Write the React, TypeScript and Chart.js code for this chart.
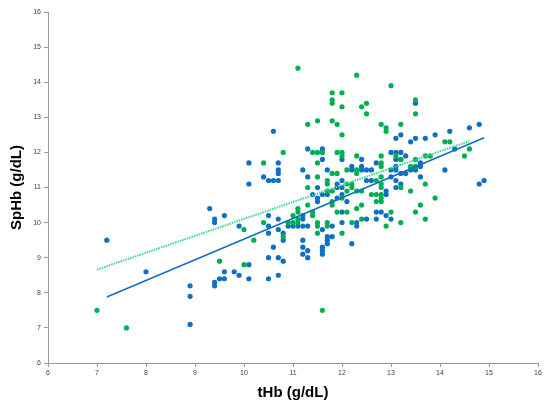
import React, { useEffect, useRef } from "react";
import { Chart, registerables } from "chart.js";

Chart.register(...registerables);

// Blue series: [tHb, SpHb]
const bluePoints: [number, number][] = [
  [7.2, 9.5], [8.0, 8.6], [8.9, 8.2], [8.9, 7.9], [8.9, 7.1], [9.4, 8.3], [9.4, 8.2], [9.5, 8.4],
  [9.6, 8.6], [9.6, 8.4], [9.8, 8.6], [9.9, 8.5], [10.1, 8.8], [10.1, 8.4], [10.5, 9.0], [10.5, 8.4],
  [10.7, 9.0], [10.7, 8.5], [10.8, 8.9], [11.3, 9.2], [11.3, 9.0], [11.6, 9.2], [11.6, 9.1],
  [10.1, 11.7], [10.7, 11.7], [10.7, 11.5], [10.7, 11.4], [10.4, 11.3], [10.5, 11.2], [10.6, 11.2],
  [10.7, 11.2], [10.1, 11.1], [11.3, 11.3], [9.3, 10.4], [9.4, 10.1], [9.4, 10.0], [9.6, 10.2],
  [9.9, 9.9], [10.5, 10.2], [10.5, 9.9], [10.5, 9.7], [10.7, 10.1], [10.7, 9.8], [10.6, 9.3],
  [10.8, 9.7], [10.8, 9.5], [10.9, 9.9], [11.0, 9.9], [11.1, 9.9], [11.2, 10.2], [11.2, 9.9],
  [11.3, 9.9], [11.2, 9.5], [11.2, 9.3], [11.2, 9.1], [10.6, 12.6],
  [13.5, 13.4], [13.2, 12.5], [13.1, 12.4], [13.4, 12.3], [13.5, 12.4], [13.7, 12.4], [13.9, 12.5],
  [14.2, 12.6], [14.6, 12.7], [14.8, 12.8], [14.3, 12.1], [11.3, 12.1], [11.6, 12.1], [13.0, 12.0],
  [13.1, 12.0], [13.2, 12.0], [13.3, 11.9], [11.6, 11.8], [12.0, 11.8], [12.4, 11.8],
  [12.7, 11.7], [13.1, 11.8], [13.2, 11.8], [13.6, 11.7], [13.6, 11.6], [13.1, 11.6], [11.2, 11.5],
  [11.7, 11.5], [12.2, 11.6], [12.2, 11.5], [12.4, 11.6], [12.4, 11.5], [12.5, 11.5], [12.6, 11.5],
  [13.0, 11.5], [13.1, 11.5], [13.2, 11.4], [13.3, 11.4], [13.4, 11.5], [13.5, 11.5], [13.6, 11.3],
  [14.1, 11.5], [14.8, 11.1], [14.9, 11.2], [12.0, 11.2], [11.9, 11.1], [12.5, 11.2], [12.6, 11.2],
  [13.0, 11.3], [13.1, 11.2], [13.1, 11.0], [13.2, 11.1], [11.5, 11.0], [11.9, 11.0], [12.0, 11.0],
  [12.0, 10.8], [11.7, 10.8], [11.4, 10.8], [11.6, 10.8], [12.9, 10.9], [12.9, 10.8], [11.5, 10.7],
  [11.5, 10.6], [11.9, 10.7], [12.1, 10.6], [12.0, 10.3], [12.7, 10.3], [12.8, 10.3], [12.9, 10.2],
  [11.2, 10.1], [11.6, 9.8], [11.8, 9.9], [11.7, 9.6], [11.8, 9.6], [11.7, 9.5], [11.7, 9.4],
  [12.0, 10.0], [12.3, 10.0], [12.3, 9.9], [12.5, 10.1], [12.7, 10.1], [13.0, 10.1], [12.2, 9.4],
  [11.6, 9.3],
];

// Green series: [tHb, SpHb]
const greenPoints: [number, number][] = [
  [7.0, 7.5], [7.6, 7.0], [9.5, 8.9], [10.0, 8.8], [11.6, 7.5], [11.1, 14.4], [10.8, 12.0],
  [12.3, 14.2], [13.0, 13.9], [11.8, 13.7], [12.0, 13.7], [11.8, 13.5], [11.8, 13.4], [12.0, 13.3],
  [12.4, 13.3], [12.5, 13.4], [12.5, 13.1], [13.5, 13.5], [13.5, 13.1], [11.3, 12.8], [11.5, 12.9],
  [11.8, 12.9], [11.9, 12.8], [12.0, 12.5], [12.8, 12.8], [12.9, 12.7], [12.9, 12.6], [13.2, 12.8],
  [14.1, 12.3], [14.2, 12.3], [14.6, 12.1], [14.5, 11.9], [11.4, 12.0], [11.5, 12.0], [11.6, 12.0],
  [11.9, 12.0], [12.0, 12.0], [12.0, 11.9], [13.1, 11.9], [12.8, 11.9], [12.3, 11.9], [13.2, 11.8],
  [13.5, 11.8], [13.7, 11.9], [13.8, 11.9],
  [10.4, 11.7], [11.3, 11.0], [11.3, 10.5], [10.0, 9.8], [10.2, 9.5], [10.4, 10.0], [10.8, 9.6],
  [10.9, 10.0], [11.0, 10.2], [11.0, 10.0], [11.1, 10.4], [11.1, 10.3], [11.1, 10.1], [11.1, 10.0],
  [11.5, 11.7], [12.8, 11.7], [12.8, 11.6], [13.4, 11.6], [13.5, 11.6], [12.1, 11.5], [12.3, 11.5],
  [11.8, 11.4], [11.9, 11.4], [12.3, 11.4], [12.8, 11.3], [11.5, 11.3], [11.7, 11.2], [11.7, 11.1],
  [12.1, 11.1], [12.2, 11.1], [12.7, 11.2], [12.8, 11.1], [12.8, 11.0], [13.2, 11.0], [13.7, 11.1],
  [12.2, 11.0], [12.3, 10.9], [12.4, 10.9], [12.1, 10.9], [11.8, 10.9], [11.7, 10.9], [12.6, 10.8],
  [12.7, 10.8], [12.8, 10.8], [13.4, 10.9], [11.8, 10.6], [11.8, 10.5], [12.0, 10.7], [12.7, 10.6],
  [12.8, 10.7], [12.8, 10.6], [13.9, 10.7], [11.4, 10.3], [11.4, 10.2], [12.4, 10.5], [13.6, 10.5],
  [11.9, 10.3], [12.1, 10.3], [12.3, 10.4], [13.0, 10.3], [13.5, 10.3], [13.7, 10.1], [11.5, 10.0],
  [11.5, 9.9], [11.7, 10.0], [11.7, 9.9], [12.0, 9.7], [12.2, 10.0], [12.4, 10.1], [13.2, 10.0],
  [12.9, 9.9], [11.5, 9.7],
];

// Regression lines
const blueFitX = [7.2, 14.9];
const blueFitY = [7.88, 12.42];
const greenFitX = [7.0, 14.6];
const greenFitY = [8.66, 12.32];

// Axis ticks
const xTicks = [6, 7, 8, 9, 10, 11, 12, 13, 14, 15, 16];
const yTicks = [6, 7, 8, 9, 10, 11, 12, 13, 14, 15, 16];

const BLUE = "#0f6fc6";
const GREEN = "#00b050";

export default function App() {
  const ref = useRef<HTMLCanvasElement | null>(null);

  useEffect(() => {
    if (!ref.current) return;
    const tickFont = { family: "'Liberation Sans', Arial, sans-serif", size: 7 };
    const titleFont = { family: "'Liberation Sans', Arial, sans-serif", size: 15, weight: "bold" as const };
    const chart = new Chart(ref.current, {
      type: "scatter",
      data: {
        datasets: [
          {
            label: "blueFit",
            type: "line",
            data: blueFitX.map((x, i) => ({ x, y: blueFitY[i] })),
            borderColor: BLUE,
            borderWidth: 1.6,
            pointRadius: 0,
            fill: false,
            order: 0,
          },
          {
            label: "greenFit",
            type: "line",
            data: greenFitX.map((x, i) => ({ x, y: greenFitY[i] })),
            borderColor: "#3ed58e",
            borderWidth: 2,
            borderDash: [1.5, 1],
            pointRadius: 0,
            fill: false,
            order: 0,
          },
          {
            label: "blue",
            data: bluePoints.map(([x, y]) => ({ x, y })),
            backgroundColor: BLUE,
            borderWidth: 0,
            pointRadius: 2.6,
            order: 2,
          },
          {
            label: "green",
            data: greenPoints.map(([x, y]) => ({ x, y })),
            backgroundColor: GREEN,
            borderWidth: 0,
            pointRadius: 2.6,
            order: 1,
          },
        ],
      },
      options: {
        responsive: false,
        animation: false,
        layout: { padding: { left: 0, right: 12, top: 12, bottom: 0 } },
        plugins: { legend: { display: false }, tooltip: { enabled: false } },
        scales: {
          x: {
            type: "linear",
            min: 6,
            max: 16,
            afterBuildTicks: (s: any) => {
              s.ticks = xTicks.map((v) => ({ value: v }));
            },
            afterFit: (s: any) => {
              s.height = 44;
            },
            ticks: { font: tickFont, color: "#404040", padding: 2, maxRotation: 0 },
            grid: { drawOnChartArea: false, drawTicks: true, tickLength: 4, color: "#9a9a9a" },
            border: { display: true, color: "#9a9a9a", width: 1 },
            title: {
              display: true,
              text: "tHb (g/dL)",
              font: titleFont,
              color: "#000",
              padding: { top: 0, bottom: 5 },
            },
          },
          y: {
            type: "linear",
            min: 6,
            max: 16,
            afterBuildTicks: (s: any) => {
              s.ticks = yTicks.map((v) => ({ value: v }));
            },
            afterFit: (s: any) => {
              s.width = 48;
            },
            ticks: { font: tickFont, color: "#404040", padding: 3 },
            grid: { drawOnChartArea: false, drawTicks: true, tickLength: 4, color: "#9a9a9a" },
            border: { display: true, color: "#9a9a9a", width: 1 },
            title: {
              display: true,
              text: "SpHb (g/dL)",
              font: titleFont,
              color: "#000",
              padding: { top: 8, bottom: 0 },
            },
          },
        },
      },
    });
    return () => chart.destroy();
  }, []);

  return (
    <div style={{ position: "absolute", left: 0, top: 0, width: 550, height: 407, background: "#fff" }}>
      <canvas ref={ref} width={550} height={407} style={{ width: 550, height: 407 }} />
    </div>
  );
}
